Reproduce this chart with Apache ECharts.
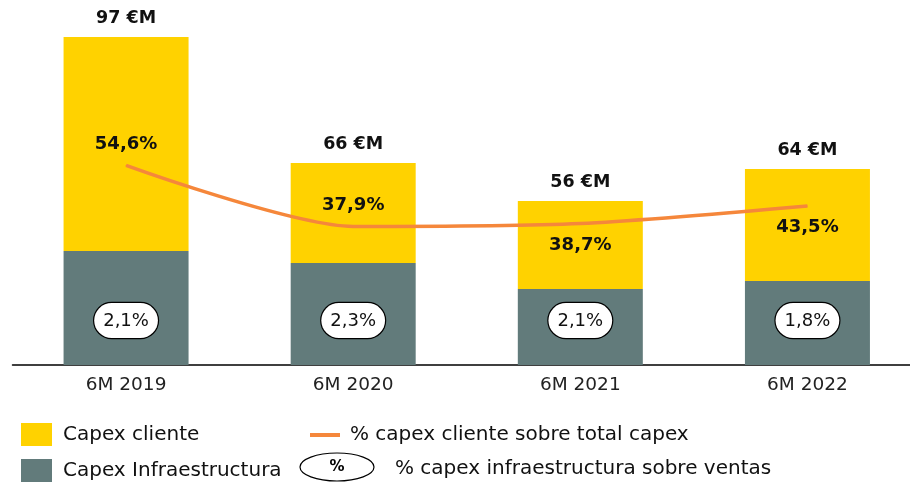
<!DOCTYPE html>
<html>
<head>
<meta charset="utf-8">
<script src="https://cdn.jsdelivr.net/npm/echarts@6/dist/echarts.min.js"></script>
<style>
  html, body { margin: 0; padding: 0; background: #fff; overflow: hidden; }
  /* el eje del original sigue mas alla del borde derecho */
  #chart { width: 921px; height: 482px; }
</style>
</head>
<body>
<div id="chart"></div>
<script>
// datos
const periodos = ['6M 2019', '6M 2020', '6M 2021', '6M 2022'];
const capexInfra = [43.5, 40.5, 34, 36];
const capexCliente = [53.5, 25, 22, 28];
const totales = ['97 €M', '66 €M', '56 €M', '64 €M'];
const pctCliente = [54.6, 37.9, 38.7, 43.5];
const pctInfraVentas = ['2,1%', '2,3%', '2,1%', '1,8%'];
const posEtiqueta = ['top', 'top', 'bottom', 'bottom'];

const fuente = '"DejaVu Sans", Lato, sans-serif';
const fmtComa = v => v.toFixed(1).replace('.', ',') + '%';

let myChart = echarts.init(document.getElementById('chart'));
let option = {
  animation: false,
  textStyle: { fontFamily: fuente },
  grid: { left: 12.5, right: 0, top: 25, bottom: 117 },
  legend: [
    {
      data: ['Capex cliente'], left: 21, top: 423, padding: 0, icon: 'rect',
      itemWidth: 31, itemHeight: 23,
      textStyle: { fontSize: 20, color: '#111', padding: [0, 0, 0, 6] }
    },
    {
      data: ['Capex Infraestructura'], left: 21, top: 459, padding: 0, icon: 'rect',
      itemWidth: 31, itemHeight: 23,
      textStyle: { fontSize: 20, color: '#111', padding: [0, 0, 0, 6] }
    },
    {
      data: ['% capex cliente sobre total capex'], left: 310, top: 425, padding: 0, icon: 'rect',
      itemWidth: 30, itemHeight: 4,
      textStyle: { fontSize: 20, color: '#111', padding: [0, 0, 0, 5] }
    }
  ],
  graphic: [
    {
      type: 'ellipse', shape: { cx: 337, cy: 467, rx: 37, ry: 14 },
      style: { fill: '#fff', stroke: '#000', lineWidth: 1.2 }
    },
    {
      type: 'text', x: 337, y: 467,
      style: { text: '%', fontSize: 15, fontWeight: 'bold', fontFamily: fuente, fill: '#000', align: 'center', verticalAlign: 'middle' }
    },
    {
      type: 'text', x: 395, y: 469,
      style: { text: '% capex infraestructura sobre ventas', fontSize: 20, fontFamily: fuente, fill: '#111', verticalAlign: 'middle' }
    }
  ],
  xAxis: {
    type: 'category',
    data: periodos,
    axisLine: { lineStyle: { color: '#000', width: 1.5 } },
    axisTick: { show: false },
    axisLabel: { fontSize: 18.5, color: '#222', margin: 11 }
  },
  yAxis: [
    { type: 'value', min: 15, max: 100, show: false, splitLine: { show: false } },
    { type: 'value', min: 0, max: 93, show: false, splitLine: { show: false } }
  ],
  series: [
    {
      name: 'Capex Infraestructura',
      type: 'bar',
      stack: 'capex',
      barWidth: 125,
      itemStyle: { color: '#627b7b' },
      data: capexInfra,
      label: {
        show: true,
        position: 'insideBottom',
        distance: 27,
        formatter: p => pctInfraVentas[p.dataIndex],
        fontSize: 18,
        color: '#111',
        backgroundColor: '#fff',
        borderColor: '#000',
        borderWidth: 1.2,
        borderRadius: 18,
        padding: [9, 9, 8, 9]
      }
    },
    {
      name: 'Capex cliente',
      type: 'bar',
      stack: 'capex',
      barWidth: 125,
      itemStyle: { color: '#ffd200' },
      data: capexCliente,
      label: {
        show: true,
        position: 'top',
        distance: 10,
        formatter: p => totales[p.dataIndex],
        fontSize: 17.5,
        fontWeight: 'bold',
        color: '#111'
      }
    },
    {
      name: '% capex cliente sobre total capex',
      type: 'line',
      yAxisIndex: 1,
      smooth: 0.25,
      symbol: 'circle',
      symbolSize: 1,
      showSymbol: true,
      z: 5,
      lineStyle: { color: '#f5873b', width: 3.5 },
      itemStyle: { color: '#f5873b' },
      data: pctCliente.map((v, i) => ({
        value: v,
        label: { position: posEtiqueta[i] }
      })),
      label: {
        show: true,
        distance: 12,
        formatter: p => fmtComa(p.value),
        fontSize: 18,
        fontWeight: 'bold',
        color: '#111'
      }
    }
  ]
};
myChart.setOption(option);
window.onresize = function () {
  myChart.resize();
};
</script>
</body>
</html>
